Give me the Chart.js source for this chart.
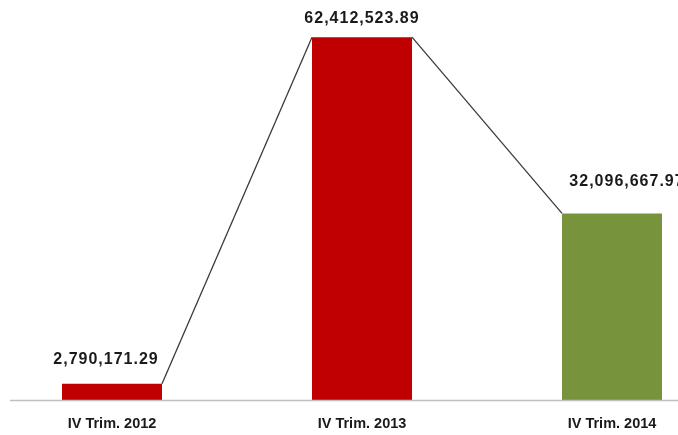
<!DOCTYPE html>
<html>
<head>
<meta charset="utf-8">
<script src="https://cdn.jsdelivr.net/npm/chart.js@4.4.1/dist/chart.umd.min.js"></script>
<style>
  html, body { margin: 0; padding: 0; background: #fff; overflow: hidden; }
  #wrap { position: absolute; left: -13px; top: 0; width: 750px; height: 435px; }
</style>
</head>
<body>
<div id="wrap"><canvas id="grafico"></canvas></div>
<script>
const periodos = ['IV Trim. 2012', 'IV Trim. 2013', 'IV Trim. 2014'];
const valores = [2790171.29, 62412523.89, 32096667.97];
const coresBarras = ['#C00000', '#C00000', '#77933C'];

// ajustes manuais das etiquetas (como no original)
const etiquetaDx = [-6, 0, 15];
const etiquetaGap = [20, 14, 27];

function formatar(v) {
    return v.toLocaleString('en-US', { minimumFractionDigits: 2, maximumFractionDigits: 2 });
}

const extras = {
    id: 'extras',
    afterDatasetsDraw(chart) {
        const ctx = chart.ctx;
        const area = chart.chartArea;
        const barras = chart.getDatasetMeta(0).data;

        // linha do eixo
        ctx.save();
        ctx.strokeStyle = '#bfbfbf';
        ctx.lineWidth = 1.5;
        ctx.beginPath();
        ctx.moveTo(23, area.bottom + 0.5);
        ctx.lineTo(chart.width, area.bottom + 0.5);
        ctx.stroke();

        // linhas de ligacao entre barras
        ctx.strokeStyle = '#3a3a3a';
        ctx.lineWidth = 1.3;
        for (let i = 0; i < barras.length - 1; i++) {
            const a = barras[i], b = barras[i + 1];
            ctx.beginPath();
            ctx.moveTo(a.x + a.width / 2, a.y);
            ctx.lineTo(b.x - b.width / 2, b.y);
            ctx.stroke();
        }

        // valores
        ctx.fillStyle = '#1a1a1a';
        ctx.font = 'bold 16px "Liberation Sans", Arial, sans-serif';
        ctx.letterSpacing = '1px';
        ctx.textAlign = 'center';
        ctx.textBaseline = 'alphabetic';
        barras.forEach(function (el, i) {
            ctx.fillText(formatar(valores[i]), el.x + etiquetaDx[i], el.y - etiquetaGap[i]);
        });
        ctx.restore();
    }
};

new Chart(document.getElementById('grafico'), {
    type: 'bar',
    data: {
        labels: periodos,
        datasets: [{
            data: valores,
            backgroundColor: coresBarras,
            borderWidth: 0,
            barPercentage: 0.4,
            categoryPercentage: 1
        }]
    },
    options: {
        responsive: true,
        maintainAspectRatio: false,
        animation: false,
        layout: { padding: 0 },
        plugins: {
            legend: { display: false },
            tooltip: { enabled: false }
        },
        scales: {
            x: {
                offset: true,
                grid: { display: false, drawTicks: false },
                border: { display: false },
                afterFit: function (scale) { scale.height = 35; },
                ticks: {
                    color: '#1a1a1a',
                    padding: 15,
                    font: { family: '"Liberation Sans", Arial, sans-serif', size: 14.5, weight: 'bold' }
                }
            },
            y: {
                display: false,
                min: 0,
                max: 68800000
            }
        }
    },
    plugins: [extras]
});
</script>
</body>
</html>
